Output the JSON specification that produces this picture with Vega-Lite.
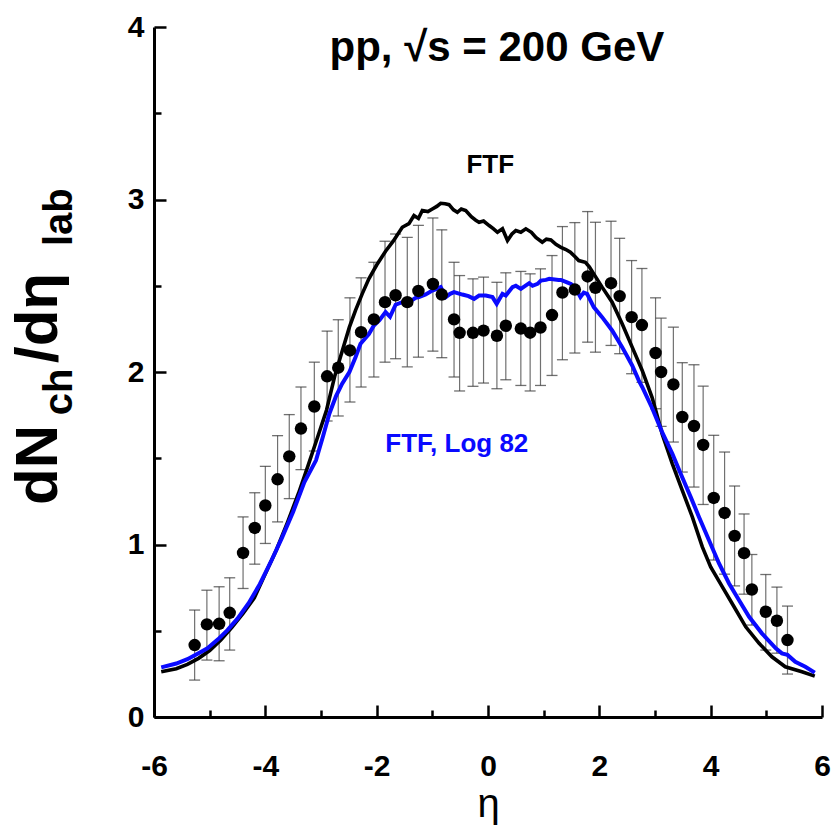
{
  "$schema": "https://vega.github.io/schema/vega-lite/v6.json",
  "width": 668,
  "height": 690,
  "autosize": {"type": "none"},
  "padding": {"left": 154, "top": 27, "right": 9, "bottom": 117},
  "background": "white",
  "config": {"view": {"stroke": null}},
  "datasets": {
    "pts": [
      {"eta": -5.27, "y": 0.417, "lo": 0.214, "hi": 0.62},
      {"eta": -5.05, "y": 0.537, "lo": 0.33, "hi": 0.735},
      {"eta": -4.83, "y": 0.54, "lo": 0.326, "hi": 0.755},
      {"eta": -4.64, "y": 0.604, "lo": 0.388, "hi": 0.807},
      {"eta": -4.40, "y": 0.951, "lo": 0.745, "hi": 1.16},
      {"eta": -4.19, "y": 1.096, "lo": 0.886, "hi": 1.30},
      {"eta": -4.00, "y": 1.226, "lo": 1.006, "hi": 1.453},
      {"eta": -3.78, "y": 1.378, "lo": 1.131, "hi": 1.631},
      {"eta": -3.57, "y": 1.511, "lo": 1.266, "hi": 1.753},
      {"eta": -3.36, "y": 1.672, "lo": 1.434, "hi": 1.913},
      {"eta": -3.12, "y": 1.80, "lo": 1.542, "hi": 2.057},
      {"eta": -2.89, "y": 1.975, "lo": 1.716, "hi": 2.237},
      {"eta": -2.69, "y": 2.025, "lo": 1.745, "hi": 2.303},
      {"eta": -2.48, "y": 2.125, "lo": 1.826, "hi": 2.43},
      {"eta": -2.28, "y": 2.231, "lo": 1.913, "hi": 2.546},
      {"eta": -2.05, "y": 2.305, "lo": 1.971, "hi": 2.636},
      {"eta": -1.85, "y": 2.405, "lo": 2.057, "hi": 2.758},
      {"eta": -1.66, "y": 2.445, "lo": 2.077, "hi": 2.80},
      {"eta": -1.45, "y": 2.405, "lo": 2.03, "hi": 2.78},
      {"eta": -1.25, "y": 2.47, "lo": 2.086, "hi": 2.85},
      {"eta": -0.99, "y": 2.51, "lo": 2.121, "hi": 2.893},
      {"eta": -0.83, "y": 2.449, "lo": 2.083, "hi": 2.824},
      {"eta": -0.61, "y": 2.305, "lo": 1.971, "hi": 2.636},
      {"eta": -0.51, "y": 2.227, "lo": 1.89, "hi": 2.559},
      {"eta": -0.27, "y": 2.227, "lo": 1.917, "hi": 2.54},
      {"eta": -0.08, "y": 2.24, "lo": 1.936, "hi": 2.55},
      {"eta": 0.16, "y": 2.21, "lo": 1.903, "hi": 2.52},
      {"eta": 0.32, "y": 2.268, "lo": 1.955, "hi": 2.575},
      {"eta": 0.59, "y": 2.252, "lo": 1.922, "hi": 2.583},
      {"eta": 0.757, "y": 2.228, "lo": 1.89, "hi": 2.569},
      {"eta": 0.943, "y": 2.258, "lo": 1.922, "hi": 2.598},
      {"eta": 1.15, "y": 2.33, "lo": 1.98, "hi": 2.675},
      {"eta": 1.337, "y": 2.461, "lo": 2.071, "hi": 2.843},
      {"eta": 1.56, "y": 2.478, "lo": 2.11, "hi": 2.866},
      {"eta": 1.79, "y": 2.554, "lo": 2.173, "hi": 2.93},
      {"eta": 1.93, "y": 2.488, "lo": 2.115, "hi": 2.868},
      {"eta": 2.21, "y": 2.515, "lo": 2.154, "hi": 2.874},
      {"eta": 2.365, "y": 2.44, "lo": 2.106, "hi": 2.775},
      {"eta": 2.58, "y": 2.318, "lo": 1.99, "hi": 2.646},
      {"eta": 2.765, "y": 2.272, "lo": 1.94, "hi": 2.60},
      {"eta": 3.01, "y": 2.11, "lo": 1.787, "hi": 2.43},
      {"eta": 3.11, "y": 2.0, "lo": 1.685, "hi": 2.312},
      {"eta": 3.33, "y": 1.928, "lo": 1.594, "hi": 2.26},
      {"eta": 3.49, "y": 1.739, "lo": 1.42, "hi": 2.054},
      {"eta": 3.70, "y": 1.687, "lo": 1.333, "hi": 2.042},
      {"eta": 3.865, "y": 1.577, "lo": 1.232, "hi": 1.918},
      {"eta": 4.055, "y": 1.27, "lo": 0.91, "hi": 1.633},
      {"eta": 4.25, "y": 1.183, "lo": 0.828, "hi": 1.536},
      {"eta": 4.43, "y": 1.05, "lo": 0.76, "hi": 1.339},
      {"eta": 4.60, "y": 0.95, "lo": 0.712, "hi": 1.177},
      {"eta": 4.74, "y": 0.739, "lo": 0.533, "hi": 0.942},
      {"eta": 4.99, "y": 0.61, "lo": 0.388, "hi": 0.826},
      {"eta": 5.19, "y": 0.558, "lo": 0.37, "hi": 0.753},
      {"eta": 5.38, "y": 0.446, "lo": 0.249, "hi": 0.643}
    ],
    "ftf": [
      {"eta": -5.87, "y": 0.262}, {"eta": -5.6, "y": 0.28}, {"eta": -5.4, "y": 0.305},
      {"eta": -5.2, "y": 0.34}, {"eta": -5.0, "y": 0.385}, {"eta": -4.8, "y": 0.446},
      {"eta": -4.6, "y": 0.52}, {"eta": -4.4, "y": 0.6}, {"eta": -4.2, "y": 0.69},
      {"eta": -4.0, "y": 0.83}, {"eta": -3.8, "y": 0.97}, {"eta": -3.6, "y": 1.13},
      {"eta": -3.4, "y": 1.3}, {"eta": -3.24, "y": 1.45}, {"eta": -3.06, "y": 1.623},
      {"eta": -2.9, "y": 1.78}, {"eta": -2.75, "y": 1.98}, {"eta": -2.62, "y": 2.12},
      {"eta": -2.49, "y": 2.26}, {"eta": -2.38, "y": 2.357}, {"eta": -2.26, "y": 2.453},
      {"eta": -2.14, "y": 2.54}, {"eta": -2.0, "y": 2.62}, {"eta": -1.84, "y": 2.7},
      {"eta": -1.7, "y": 2.76}, {"eta": -1.54, "y": 2.839}, {"eta": -1.42, "y": 2.86},
      {"eta": -1.33, "y": 2.907}, {"eta": -1.25, "y": 2.89}, {"eta": -1.18, "y": 2.936},
      {"eta": -1.08, "y": 2.93}, {"eta": -1.0, "y": 2.945}, {"eta": -0.92, "y": 2.96},
      {"eta": -0.85, "y": 2.978}, {"eta": -0.77, "y": 2.975}, {"eta": -0.7, "y": 2.97},
      {"eta": -0.62, "y": 2.94}, {"eta": -0.55, "y": 2.926}, {"eta": -0.48, "y": 2.945},
      {"eta": -0.4, "y": 2.936}, {"eta": -0.3, "y": 2.9}, {"eta": -0.22, "y": 2.88},
      {"eta": -0.16, "y": 2.868}, {"eta": -0.08, "y": 2.875}, {"eta": 0.02, "y": 2.849},
      {"eta": 0.1, "y": 2.83}, {"eta": 0.17, "y": 2.81}, {"eta": 0.26, "y": 2.83},
      {"eta": 0.35, "y": 2.762}, {"eta": 0.43, "y": 2.8}, {"eta": 0.5, "y": 2.82},
      {"eta": 0.59, "y": 2.81}, {"eta": 0.68, "y": 2.83}, {"eta": 0.78, "y": 2.81},
      {"eta": 0.86, "y": 2.78}, {"eta": 0.975, "y": 2.752}, {"eta": 1.05, "y": 2.77},
      {"eta": 1.13, "y": 2.766}, {"eta": 1.22, "y": 2.74}, {"eta": 1.31, "y": 2.723},
      {"eta": 1.4, "y": 2.71}, {"eta": 1.48, "y": 2.694}, {"eta": 1.56, "y": 2.67},
      {"eta": 1.63, "y": 2.646}, {"eta": 1.75, "y": 2.636}, {"eta": 1.82, "y": 2.61},
      {"eta": 1.9, "y": 2.569}, {"eta": 2.05, "y": 2.492}, {"eta": 2.23, "y": 2.405},
      {"eta": 2.41, "y": 2.28}, {"eta": 2.59, "y": 2.144}, {"eta": 2.77, "y": 2.009},
      {"eta": 2.95, "y": 1.85}, {"eta": 3.13, "y": 1.64}, {"eta": 3.31, "y": 1.469},
      {"eta": 3.49, "y": 1.314}, {"eta": 3.67, "y": 1.16}, {"eta": 3.85, "y": 0.986},
      {"eta": 4.0, "y": 0.87}, {"eta": 4.21, "y": 0.754}, {"eta": 4.42, "y": 0.639},
      {"eta": 4.63, "y": 0.523}, {"eta": 4.87, "y": 0.427}, {"eta": 5.1, "y": 0.349},
      {"eta": 5.34, "y": 0.291}, {"eta": 5.64, "y": 0.262}, {"eta": 5.87, "y": 0.237}
    ],
    "log": [
      {"eta": -5.87, "y": 0.288}, {"eta": -5.6, "y": 0.31}, {"eta": -5.4, "y": 0.335},
      {"eta": -5.2, "y": 0.37}, {"eta": -5.04, "y": 0.398}, {"eta": -4.85, "y": 0.45},
      {"eta": -4.68, "y": 0.504}, {"eta": -4.5, "y": 0.57}, {"eta": -4.3, "y": 0.66},
      {"eta": -4.1, "y": 0.77}, {"eta": -3.9, "y": 0.9}, {"eta": -3.7, "y": 1.04},
      {"eta": -3.5, "y": 1.19}, {"eta": -3.3, "y": 1.36}, {"eta": -3.09, "y": 1.488},
      {"eta": -2.97, "y": 1.62}, {"eta": -2.85, "y": 1.758}, {"eta": -2.73, "y": 1.86},
      {"eta": -2.62, "y": 1.932}, {"eta": -2.49, "y": 2.0}, {"eta": -2.38, "y": 2.086},
      {"eta": -2.29, "y": 2.164}, {"eta": -2.14, "y": 2.22}, {"eta": -2.05, "y": 2.27},
      {"eta": -1.95, "y": 2.3}, {"eta": -1.84, "y": 2.347}, {"eta": -1.76, "y": 2.32},
      {"eta": -1.66, "y": 2.39}, {"eta": -1.54, "y": 2.405}, {"eta": -1.42, "y": 2.405},
      {"eta": -1.3, "y": 2.43}, {"eta": -1.24, "y": 2.434}, {"eta": -1.12, "y": 2.45},
      {"eta": -1.0, "y": 2.472}, {"eta": -0.85, "y": 2.492}, {"eta": -0.76, "y": 2.434},
      {"eta": -0.68, "y": 2.453}, {"eta": -0.61, "y": 2.463}, {"eta": -0.46, "y": 2.449},
      {"eta": -0.35, "y": 2.44}, {"eta": -0.25, "y": 2.424}, {"eta": -0.16, "y": 2.443},
      {"eta": -0.04, "y": 2.443}, {"eta": 0.08, "y": 2.434}, {"eta": 0.156, "y": 2.395},
      {"eta": 0.26, "y": 2.453}, {"eta": 0.32, "y": 2.443}, {"eta": 0.44, "y": 2.492},
      {"eta": 0.5, "y": 2.5}, {"eta": 0.59, "y": 2.482}, {"eta": 0.74, "y": 2.515},
      {"eta": 0.8, "y": 2.5}, {"eta": 0.89, "y": 2.511}, {"eta": 0.95, "y": 2.53},
      {"eta": 1.04, "y": 2.534}, {"eta": 1.1, "y": 2.54}, {"eta": 1.27, "y": 2.534},
      {"eta": 1.31, "y": 2.534}, {"eta": 1.42, "y": 2.52}, {"eta": 1.49, "y": 2.51},
      {"eta": 1.57, "y": 2.488}, {"eta": 1.66, "y": 2.434}, {"eta": 1.72, "y": 2.46},
      {"eta": 1.78, "y": 2.453}, {"eta": 1.9, "y": 2.376}, {"eta": 2.05, "y": 2.318},
      {"eta": 2.23, "y": 2.241}, {"eta": 2.41, "y": 2.144}, {"eta": 2.59, "y": 2.038},
      {"eta": 2.71, "y": 1.95}, {"eta": 2.77, "y": 1.913}, {"eta": 2.95, "y": 1.79},
      {"eta": 3.13, "y": 1.65}, {"eta": 3.31, "y": 1.527}, {"eta": 3.46, "y": 1.411},
      {"eta": 3.64, "y": 1.276}, {"eta": 3.79, "y": 1.16}, {"eta": 3.97, "y": 1.025},
      {"eta": 4.15, "y": 0.89}, {"eta": 4.33, "y": 0.774}, {"eta": 4.51, "y": 0.677},
      {"eta": 4.69, "y": 0.581}, {"eta": 4.92, "y": 0.485}, {"eta": 5.17, "y": 0.398},
      {"eta": 5.28, "y": 0.369}, {"eta": 5.38, "y": 0.36}, {"eta": 5.52, "y": 0.32},
      {"eta": 5.7, "y": 0.291}, {"eta": 5.87, "y": 0.257}
    ],
    "ytitleBig": [
      {"text": "dN", "eta": -7.74, "y": 1.229},
      {"text": "/dη", "eta": -7.74, "y": 2.052}
    ],
    "ytitleSub": [
      {"text": "ch", "eta": -7.47, "y": 1.75},
      {"text": "lab", "eta": -7.47, "y": 2.73}
    ]
  },
  "layer": [
    {
      "data": {"name": "pts"},
      "mark": {"type": "rule", "color": "#707070", "strokeWidth": 1.2},
      "encoding": {
        "x": {
          "field": "eta", "type": "quantitative",
          "scale": {"domain": [-6, 6], "nice": false, "zero": false},
          "axis": {
            "values": [-6, -5, -4, -3, -2, -1, 0, 1, 2, 3, 4, 5, 6],
            "labelExpr": "abs(datum.value) % 2 == 0 ? '' + datum.value : ''",
            "grid": false,
            "domainColor": "black", "domainWidth": 3,
            "tickColor": "black", "tickWidth": 2.5,
            "tickSize": {"condition": {"test": "abs(datum.value) % 2 == 0", "value": -12}, "value": -7},
            "labelFont": "Liberation Sans",
            "labelFontWeight": "bold", "labelFontSize": 30, "labelColor": "black",
            "labelPadding": 46, "labelFlush": false, "labelOverlap": false,
            "title": "η", "titleFont": "Liberation Sans", "titleFontWeight": "normal",
            "titleFontSize": 40, "titleColor": "black", "titlePadding": -2
          }
        },
        "y": {
          "field": "lo", "type": "quantitative",
          "scale": {"domain": [0, 4], "nice": false, "zero": false},
          "axis": {
            "values": [0, 0.5, 1, 1.5, 2, 2.5, 3, 3.5, 4],
            "labelExpr": "datum.value % 1 == 0 ? '' + datum.value : ''",
            "grid": false,
            "domainColor": "black", "domainWidth": 3,
            "tickColor": "black", "tickWidth": 2.5,
            "tickSize": {"condition": {"test": "datum.value % 1 == 0", "value": -12}, "value": -7},
            "labelFont": "Liberation Sans",
            "labelFontWeight": "bold", "labelFontSize": 30, "labelColor": "black",
            "labelPadding": 22, "labelFlush": false, "labelOverlap": false,
            "title": null
          }
        },
        "y2": {"field": "hi"}
      }
    },
    {
      "data": {"name": "pts"},
      "mark": {"type": "tick", "orient": "horizontal", "color": "#333333", "size": 11, "thickness": 1.3},
      "encoding": {
        "x": {"field": "eta", "type": "quantitative"},
        "y": {"field": "hi", "type": "quantitative"}
      }
    },
    {
      "data": {"name": "pts"},
      "mark": {"type": "tick", "orient": "horizontal", "color": "#333333", "size": 11, "thickness": 1.3},
      "encoding": {
        "x": {"field": "eta", "type": "quantitative"},
        "y": {"field": "lo", "type": "quantitative"}
      }
    },
    {
      "data": {"name": "ftf"},
      "mark": {"type": "line", "color": "black", "strokeWidth": 3.6},
      "encoding": {
        "x": {"field": "eta", "type": "quantitative"},
        "y": {"field": "y", "type": "quantitative"}
      }
    },
    {
      "data": {"name": "log"},
      "mark": {"type": "line", "color": "#0a0aff", "strokeWidth": 4},
      "encoding": {
        "x": {"field": "eta", "type": "quantitative"},
        "y": {"field": "y", "type": "quantitative"}
      }
    },
    {
      "data": {"name": "pts"},
      "mark": {"type": "circle", "color": "black", "opacity": 1, "size": 155},
      "encoding": {
        "x": {"field": "eta", "type": "quantitative"},
        "y": {"field": "y", "type": "quantitative"}
      }
    },
    {
      "data": {"values": [{"text": "FTF", "eta": 0.04, "y": 3.2}]},
      "mark": {"type": "text", "font": "Liberation Sans", "fontWeight": "bold", "fontSize": 26, "color": "black", "align": "center", "baseline": "middle"},
      "encoding": {
        "x": {"field": "eta", "type": "quantitative"},
        "y": {"field": "y", "type": "quantitative"},
        "text": {"field": "text"}
      }
    },
    {
      "data": {"values": [{"text": "FTF, Log 82", "eta": -0.56, "y": 1.58}]},
      "mark": {"type": "text", "font": "Liberation Sans", "fontWeight": "bold", "fontSize": 26, "color": "#0a0aff", "align": "center", "baseline": "middle"},
      "encoding": {
        "x": {"field": "eta", "type": "quantitative"},
        "y": {"field": "y", "type": "quantitative"},
        "text": {"field": "text"}
      }
    },
    {
      "data": {"values": [{"text": "pp, √s = 200 GeV", "eta": 0.16, "y": 3.88}]},
      "mark": {"type": "text", "font": "Liberation Sans", "fontWeight": "bold", "fontSize": 42, "color": "black", "align": "center", "baseline": "middle"},
      "encoding": {
        "x": {"field": "eta", "type": "quantitative"},
        "y": {"field": "y", "type": "quantitative"},
        "text": {"field": "text"}
      }
    },
    {
      "data": {"name": "ytitleBig"},
      "mark": {"type": "text", "font": "Liberation Sans", "fontWeight": "bold", "fontSize": 60, "color": "black", "angle": 270, "align": "left", "baseline": "alphabetic"},
      "encoding": {
        "x": {"field": "eta", "type": "quantitative"},
        "y": {"field": "y", "type": "quantitative"},
        "text": {"field": "text"}
      }
    },
    {
      "data": {"name": "ytitleSub"},
      "mark": {"type": "text", "font": "Liberation Sans", "fontWeight": "bold", "fontSize": 40, "color": "black", "angle": 270, "align": "left", "baseline": "alphabetic"},
      "encoding": {
        "x": {"field": "eta", "type": "quantitative"},
        "y": {"field": "y", "type": "quantitative"},
        "text": {"field": "text"}
      }
    }
  ]
}
